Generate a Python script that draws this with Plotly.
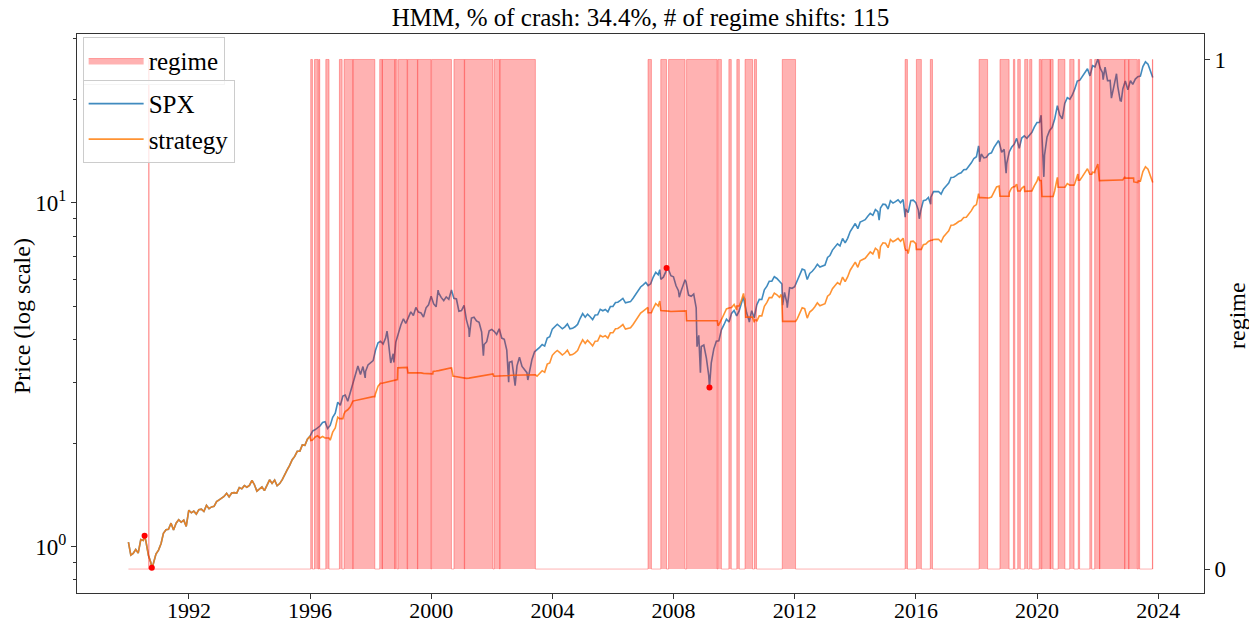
import pandas as pd
import plotly.graph_objects as go

title_text = "HMM, % of crash: 34.4%, # of regime shifts: 115"
tick_years = [1992, 1996, 2000, 2004, 2008, 2012, 2016, 2020, 2024]

first_date = "1990-01-02"
last_date = "2023-10-27"

# month-end values, Jan 1990 .. Sep 2023 (one row per year)
spx_monthly = [
    0.944, 0.955, 0.981, 0.957, 1.048, 1.042, 1.039, 0.944, 0.898, 0.895, 0.951, 0.977,
    1.021, 1.093, 1.120, 1.123, 1.170, 1.117, 1.170, 1.197, 1.177, 1.194, 1.145, 1.276,
    1.254, 1.268, 1.243, 1.281, 1.285, 1.265, 1.318, 1.289, 1.304, 1.309, 1.352, 1.368,
    1.381, 1.399, 1.429, 1.395, 1.431, 1.435, 1.431, 1.484, 1.472, 1.504, 1.488, 1.507,
    1.559, 1.516, 1.450, 1.470, 1.492, 1.455, 1.505, 1.564, 1.526, 1.561, 1.503, 1.525,
    1.565, 1.625, 1.672, 1.723, 1.789, 1.830, 1.893, 1.895, 1.975, 1.970, 2.054, 2.094,
    2.167, 2.186, 2.208, 2.242, 2.297, 2.307, 2.206, 2.251, 2.378, 2.445, 2.629, 2.578,
    2.740, 2.760, 2.646, 2.805, 2.973, 3.107, 3.354, 3.166, 3.339, 3.229, 3.377, 3.435,
    3.474, 3.723, 3.914, 3.955, 3.884, 4.042, 4.000, 3.420, 3.639, 3.935, 4.173, 4.413,
    4.599, 4.456, 4.635, 4.816, 4.701, 4.962, 4.809, 4.784, 4.653, 4.950, 5.050, 5.348,
    5.080, 4.983, 5.470, 5.306, 5.195, 5.324, 5.241, 5.565, 5.272, 5.250, 4.836, 4.859,
    5.033, 4.573, 4.285, 4.619, 4.648, 4.536, 4.492, 4.209, 3.870, 3.945, 4.246, 4.282,
    4.222, 4.141, 4.300, 4.042, 4.011, 3.727, 3.438, 3.460, 3.083, 3.355, 3.552, 3.343,
    3.256, 3.205, 3.236, 3.503, 3.686, 3.732, 3.798, 3.871, 3.830, 4.045, 4.079, 4.292,
    4.373, 4.433, 4.367, 4.300, 4.358, 4.443, 4.298, 4.314, 4.360, 4.428, 4.606, 4.763,
    4.650, 4.745, 4.661, 4.573, 4.717, 4.724, 4.901, 4.853, 4.893, 4.814, 4.991, 4.993,
    5.128, 5.138, 5.203, 5.273, 5.117, 5.125, 5.159, 5.276, 5.413, 5.592, 5.692, 5.772,
    5.863, 5.744, 5.811, 6.073, 6.280, 6.179, 5.991, 6.077, 6.306, 6.410, 6.136, 6.094,
    5.735, 5.549, 5.529, 5.806, 5.882, 5.389, 5.348, 5.426, 4.945, 4.117, 3.818, 3.857,
    3.533, 3.150, 3.425, 3.753, 3.959, 3.967, 4.269, 4.419, 4.586, 4.502, 4.769, 4.862,
    4.690, 4.830, 5.122, 5.206, 4.786, 4.535, 4.855, 4.631, 5.044, 5.238, 5.234, 5.584,
    5.720, 5.913, 5.917, 6.095, 6.024, 5.923, 5.806, 5.485, 5.100, 5.659, 5.640, 5.697,
    5.955, 6.207, 6.413, 6.374, 5.985, 6.232, 6.321, 6.456, 6.624, 6.503, 6.533, 6.589,
    6.933, 7.021, 7.285, 7.429, 7.595, 7.493, 7.877, 7.642, 7.883, 8.247, 8.492, 8.706,
    8.410, 8.786, 8.861, 8.930, 9.133, 9.321, 9.196, 9.556, 9.424, 9.657, 9.910, 9.883,
    9.592, 10.137, 9.978, 10.079, 10.204, 10.006, 10.220, 9.599, 9.360, 10.154, 10.177, 10.015,
    9.523, 9.501, 10.144, 10.188, 10.363, 10.390, 10.777, 10.783, 10.787, 10.595, 10.976, 11.194,
    11.412, 11.853, 11.868, 11.993, 12.151, 12.226, 12.482, 12.507, 12.768, 13.070, 13.458, 13.609,
    14.396, 13.859, 13.508, 13.566, 13.884, 13.972, 14.498, 14.963, 15.051, 14.028, 14.303, 13.011,
    14.059, 14.502, 14.790, 15.398, 14.410, 15.430, 15.659, 15.402, 15.696, 16.044, 16.619, 17.123,
    17.118, 15.696, 13.750, 15.514, 16.235, 16.556, 17.490, 18.737, 18.026, 17.550, 19.459, 20.208,
    20.005, 20.550, 21.446, 22.591, 22.740, 23.271, 23.827, 24.545, 23.398, 25.044, 24.863, 25.976,
    24.646, 23.912, 24.804, 22.655, 22.694, 20.820, 22.750, 21.820, 19.811, 21.424, 22.612, 21.309,
    22.658, 22.094, 22.901, 23.266, 23.357, 24.900, 25.712, 25.288, 24.090,
]

spx_extra_dates = [
    "1990-01-02", "1990-07-16", "1990-10-11", "1997-10-27", "1998-07-17", "1998-10-08",
    "2000-03-24", "2000-09-01", "2001-04-04", "2001-09-21", "2002-07-23", "2002-10-09",
    "2003-03-11", "2007-07-19", "2007-10-09", "2008-03-10", "2008-05-19", "2008-10-10",
    "2008-11-20", "2009-03-09", "2010-04-23", "2010-07-02", "2011-08-08", "2011-10-03",
    "2014-10-15", "2015-08-25", "2016-02-11", "2016-06-27", "2018-01-26", "2018-02-08",
    "2018-09-20", "2018-12-24", "2020-02-19", "2020-03-23", "2020-09-02", "2022-01-03",
    "2022-03-08", "2022-06-16", "2022-08-16", "2022-10-12", "2023-10-27",
]
spx_extra_values = [
    1.030, 1.075, 0.868, 3.096, 4.233, 3.435,
    5.574, 5.577, 4.07, 3.589, 3.006, 2.940,
    3.052, 6.39, 6.467, 5.314, 5.975, 3.815,
    3.203, 2.900, 5.339, 4.50, 5.04, 4.956,
    8.905, 9.084, 8.985, 9.899, 14.643, 13.163,
    15.13, 12.198, 17.984, 11.899, 19.17, 26.142,
    22.810, 20.153, 23.730, 19.774, 23.15,
]

strategy_monthly = [
    0.944, 0.955, 0.981, 0.957, 1.048, 1.042, 1.039, 0.944, 0.898, 0.895, 0.951, 0.977,
    1.021, 1.093, 1.120, 1.123, 1.170, 1.117, 1.170, 1.197, 1.177, 1.194, 1.145, 1.276,
    1.254, 1.268, 1.243, 1.281, 1.285, 1.265, 1.318, 1.289, 1.304, 1.309, 1.352, 1.368,
    1.381, 1.399, 1.429, 1.395, 1.431, 1.435, 1.431, 1.484, 1.472, 1.504, 1.488, 1.507,
    1.559, 1.516, 1.450, 1.470, 1.492, 1.455, 1.505, 1.564, 1.526, 1.561, 1.503, 1.525,
    1.565, 1.625, 1.672, 1.723, 1.789, 1.830, 1.893, 1.895, 1.975, 1.970, 2.054, 2.094,
    2.04, 2.08, 2.10, 2.07, 2.09, 2.07, 2.07, 2.04, 2.152, 2.213, 2.379, 2.356,
    2.356, 2.47, 2.50, 2.55, 2.65, 2.66, 2.68, 2.69, 2.70, 2.71, 2.72, 2.72,
    2.73, 2.785, 2.928, 2.985, 2.99, 3.00, 3.01, 3.02, 3.03, 3.05, 3.31, 3.31,
    3.31, 3.31, 3.20, 3.20, 3.21, 3.21, 3.21, 3.20, 3.19, 3.19, 3.18, 3.18,
    3.23, 3.24, 3.25, 3.26, 3.27, 3.28, 3.29, 3.31, 3.13, 3.12, 3.11, 3.10,
    3.09, 3.085, 3.09, 3.10, 3.11, 3.12, 3.13, 3.14, 3.15, 3.16, 3.17, 3.175,
    3.13, 3.13, 3.135, 3.14, 3.14, 3.14, 3.145, 3.15, 3.15, 3.15, 3.155, 3.155,
    3.16, 3.16, 3.16, 3.16, 3.16, 3.131, 3.187, 3.248, 3.213, 3.394, 3.422, 3.601,
    3.669, 3.719, 3.664, 3.608, 3.656, 3.728, 3.606, 3.619, 3.658, 3.715, 3.864, 3.996,
    3.901, 3.981, 3.911, 3.837, 3.958, 3.963, 4.112, 4.072, 4.105, 4.039, 4.187, 4.189,
    4.302, 4.311, 4.365, 4.424, 4.293, 4.300, 4.328, 4.427, 4.542, 4.692, 4.776, 4.843,
    4.919, 4.79, 4.79, 4.925, 5.093, 5.011, 4.859, 4.86, 4.86, 4.84, 4.83, 4.83,
    4.83, 4.83, 4.83, 4.84, 4.85, 4.54, 4.54, 4.54, 4.54, 4.54, 4.54, 4.54,
    4.54, 4.54, 4.54, 4.54, 4.54, 4.42, 4.57, 4.73, 4.91, 4.94, 4.96, 5.06,
    4.88, 5.01, 5.22, 5.31, 4.65, 4.65, 4.65, 4.49, 4.52, 4.69, 4.69, 5.00,
    5.13, 5.30, 5.30, 5.46, 5.40, 5.31, 5.20, 4.52, 4.52, 4.52, 4.52, 4.52,
    4.597, 4.792, 4.951, 4.921, 4.620, 4.811, 4.880, 4.984, 5.114, 5.020, 5.043, 5.087,
    5.352, 5.420, 5.624, 5.735, 5.863, 5.785, 6.081, 5.900, 6.086, 6.367, 6.556, 6.721,
    6.493, 6.783, 6.841, 6.894, 7.051, 7.196, 7.099, 7.377, 7.275, 7.455, 7.651, 7.630,
    7.405, 7.826, 7.703, 7.781, 7.877, 7.725, 7.890, 7.28, 7.114, 7.717, 7.735, 7.611,
    7.32, 7.32, 7.557, 7.590, 7.720, 7.785, 7.824, 7.828, 7.831, 7.692, 7.969, 8.127,
    8.285, 8.605, 8.616, 8.707, 8.822, 8.876, 9.062, 9.080, 9.270, 9.489, 9.771, 9.880,
    10.451, 10.35, 10.35, 10.35, 10.323, 10.388, 10.779, 11.125, 11.190, 10.45, 10.45, 10.45,
    10.709, 11.046, 11.13, 11.333, 10.82, 11.02, 11.18, 10.80, 10.85, 10.83, 11.218, 11.558,
    11.61, 10.43, 10.43, 10.43, 10.43, 10.43, 10.82, 11.59, 11.10, 11.10, 11.10, 11.377,
    11.26, 11.26, 11.358, 11.964, 11.64, 11.915, 12.199, 12.567, 12.11, 12.272, 12.40, 12.88,
    11.60, 11.60, 11.61, 11.61, 11.62, 11.62, 11.63, 11.64, 11.65, 11.66, 11.80, 11.80,
    11.80, 11.80, 11.48, 11.45, 11.56, 12.33, 12.73, 12.52, 11.92,
]

strategy_extra_dates = [
    "1990-01-02", "1990-07-16", "1990-10-11", "1996-01-10", "1996-08-16", "1996-12-20",
    "1997-02-13", "1998-02-20", "1998-04-20", "1998-11-20", "1998-11-24", "1999-03-17",
    "1999-03-27", "2000-01-20", "2000-01-24", "2000-09-01", "2000-09-20", "2002-01-15",
    "2002-01-25", "2003-06-10", "2007-02-26", "2007-02-27", "2007-04-09", "2007-07-19",
    "2007-10-09", "2008-05-19", "2008-06-06", "2009-06-12", "2009-06-19", "2009-10-29",
    "2009-11-27", "2010-02-02", "2010-03-04", "2010-04-23", "2010-05-12", "2010-05-20",
    "2010-08-11", "2010-09-02", "2010-09-27", "2011-07-21", "2011-08-04", "2011-08-08",
    "2012-01-11", "2014-10-15", "2015-08-21", "2015-08-24", "2015-09-21", "2016-01-04",
    "2016-01-07", "2016-03-07", "2016-06-23", "2016-07-19", "2018-01-26", "2018-02-01",
    "2018-05-15", "2018-10-10", "2018-10-11", "2019-01-29", "2019-03-22", "2019-04-08",
    "2019-05-13", "2019-06-13", "2019-08-05", "2019-09-13", "2019-10-04", "2019-10-30",
    "2020-01-17", "2020-01-27", "2020-02-20", "2020-02-25", "2020-02-27", "2020-07-13",
    "2020-09-02", "2020-09-11", "2020-12-02", "2021-03-22", "2021-05-07", "2021-05-12",
    "2021-05-28", "2021-09-28", "2021-10-22", "2021-11-26", "2022-01-03", "2022-01-21",
    "2022-11-23", "2023-03-10", "2023-03-13", "2023-04-24", "2023-05-05", "2023-05-22",
    "2023-10-27",
]
strategy_extra_values = [
    1.030, 1.075, 0.868, 2.035, 2.07, 2.356,
    2.43, 2.73, 2.985, 3.06, 3.31, 3.32,
    3.20, 3.18, 3.23, 3.32, 3.13, 3.18,
    3.13, 3.16, 4.963, 4.792, 4.79, 5.18,
    4.86, 4.85, 4.54, 4.54, 4.39, 4.94,
    4.94, 5.01, 5.01, 5.45, 5.24, 4.65,
    4.65, 4.56, 4.56, 5.41, 4.84, 4.52,
    4.52, 6.875, 7.40, 7.28, 7.28, 7.50,
    7.32, 7.32, 7.785, 7.785, 10.631, 10.35,
    10.35, 10.706, 10.45, 10.45, 11.13, 11.13,
    10.82, 10.82, 10.80, 10.80, 10.85, 10.85,
    11.92, 11.61, 11.61, 10.80, 10.43, 10.43,
    11.86, 11.10, 11.10, 11.26, 12.12, 11.64,
    11.64, 12.11, 12.11, 12.25, 12.96, 11.60,
    11.90, 11.80, 11.50, 11.45, 11.58, 11.58,
    11.46,
]

crash_dates = ["1990-07-16", "1990-10-11", "2007-10-09", "2009-03-09"]
crash_values = [1.075, 0.868, 6.467, 2.900]

regime_starts = [
    "1990-09-05", "1996-01-09", "1996-02-24", "1996-04-16", "1996-07-09", "1996-12-20",
    "1997-02-14", "1997-06-03", "1998-04-20", "1998-05-22", "1998-10-21", "1998-12-01",
    "1999-03-22", "1999-07-23", "2000-01-05", "2000-10-01", "2001-02-07", "2002-01-30",
    "2002-04-09", "2007-02-27", "2007-07-31", "2007-11-02", "2008-06-06", "2009-06-18",
    "2009-10-29", "2010-02-02", "2010-05-12", "2010-09-02", "2011-08-04", "2015-08-24",
    "2016-01-07", "2016-06-23", "2018-02-01", "2018-10-11", "2019-03-22", "2019-05-13",
    "2019-08-05", "2019-10-04", "2020-01-27", "2020-02-27", "2020-06-10", "2020-09-11",
    "2021-01-29", "2021-05-12", "2021-09-28", "2021-11-26", "2022-01-26", "2022-11-25",
    "2023-01-12", "2023-05-05", "2023-10-23",
]
regime_ends = [
    "1990-09-06", "1996-01-30", "1996-04-08", "1996-04-27", "1996-08-17", "1997-01-22",
    "1997-05-30", "1998-02-20", "1998-05-20", "1998-10-19", "1998-11-17", "1999-03-17",
    "1999-07-19", "1999-12-28", "2000-09-01", "2001-02-03", "2002-01-15", "2002-04-05",
    "2003-06-10", "2007-04-09", "2007-10-09", "2008-05-19", "2009-06-10", "2009-07-31",
    "2009-11-27", "2010-03-04", "2010-08-11", "2010-09-27", "2012-01-11", "2015-09-21",
    "2016-03-07", "2016-07-19", "2018-05-15", "2019-01-29", "2019-04-08", "2019-06-13",
    "2019-09-13", "2019-10-30", "2020-02-20", "2020-06-08", "2020-07-13", "2020-12-02",
    "2021-03-22", "2021-05-28", "2021-10-22", "2022-01-24", "2022-11-21", "2023-01-10",
    "2023-04-24", "2023-05-22", "2023-10-27",
]


def build_series(monthly, extra_dates, extra_values):
    m = pd.Series(monthly, index=pd.date_range("1990-01-31", periods=len(monthly), freq="ME"))
    e = pd.Series(extra_values, index=pd.to_datetime(extra_dates))
    return pd.concat([m, e]).sort_index()


spx = build_series(spx_monthly, spx_extra_dates, spx_extra_values)
strategy = build_series(strategy_monthly, strategy_extra_dates, strategy_extra_values)

reg_x = [first_date]
reg_y = [0]
for s, e in zip(regime_starts, regime_ends):
    reg_x += [s, e]
    reg_y += [1, 0]
reg_x.append(last_date)
reg_y.append(0)

FONT = "Liberation Serif, DejaVu Serif, serif"
AX = "#333333"

fig = go.Figure()
fig.add_trace(go.Scatter(
    x=spx.index, y=spx.values, mode="lines", name="SPX",
    line=dict(color="rgba(31,119,180,0.85)", width=1.6), legend="legend2",
))
fig.add_trace(go.Scatter(
    x=strategy.index, y=strategy.values, mode="lines", name="strategy",
    line=dict(color="rgba(255,127,14,0.85)", width=1.6), legend="legend2",
))
fig.add_trace(go.Scatter(
    x=crash_dates, y=crash_values, mode="markers", showlegend=False,
    marker=dict(color="red", size=6),
))
fig.add_trace(go.Scatter(
    x=reg_x, y=reg_y, yaxis="y2", mode="lines", name="regime",
    line=dict(shape="hv", color="rgba(255,0,0,0.3)", width=1),
    fill="tozeroy", fillcolor="rgba(255,0,0,0.3)", legend="legend",
))

legend_common = dict(
    xanchor="left", yanchor="top", bgcolor="rgba(255,255,255,0.8)",
    bordercolor="#cccccc", borderwidth=1, font=dict(family=FONT, size=25, color="black"),
    itemwidth=55, tracegroupgap=0,
)

fig.update_layout(
    width=1249, height=622, autosize=False,
    margin=dict(l=77, r=45, t=34, b=29),
    paper_bgcolor="white", plot_bgcolor="white",
    font=dict(family=FONT, size=23, color="black"),
    title=dict(text=title_text, x=0.5, xref="paper", xanchor="center",
               y=1 - 17 / 622, yref="container", yanchor="middle",
               font=dict(family=FONT, size=25, color="black")),
    xaxis=dict(
        type="date", range=["1988-04-22", "2025-07-06"],
        tickvals=[f"{y}-01-01" for y in tick_years], ticktext=[str(y) for y in tick_years],
        ticks="outside", ticklen=5, tickcolor=AX, showline=True, linecolor=AX, linewidth=1,
        mirror=True, showgrid=False, zeroline=False, tickfont=dict(size=22),
        ticklabelstandoff=-7, automargin=False,
    ),
    yaxis=dict(
        type="log", range=[-0.135, 1.491],
        tickvals=[1, 10], ticktext=["10<sup>0</sup>", "10<sup>1</sup>"],
        ticks="outside", ticklen=5, tickcolor=AX, showline=True, linecolor=AX, linewidth=1,
        mirror=True, showgrid=False, zeroline=False, tickfont=dict(size=23),
        minor=dict(ticks="outside", ticklen=3, tickcolor=AX,
                   tickvals=[0.8, 0.9, 2, 3, 4, 5, 6, 7, 8, 9, 20, 30]),
        automargin=False,
    ),
    yaxis2=dict(
        overlaying="y", side="right", range=[-0.047, 1.050],
        tickvals=[0, 1], ticktext=["0", "1"],
        ticks="outside", ticklen=5, tickcolor=AX, showline=True, linecolor=AX, linewidth=1,
        showgrid=False, zeroline=False, tickfont=dict(size=23),
        automargin=False,
    ),
    legend=dict(x=0.005, y=0.995, **legend_common),
    legend2=dict(x=0.005, y=0.918, **legend_common),
    annotations=[
        dict(text="Price (log scale)", xref="paper", yref="paper",
             x=(22 - 77) / 1127, y=(593 - 316) / 559, textangle=-90,
             showarrow=False, xanchor="center", yanchor="middle",
             font=dict(family=FONT, size=24, color="black")),
        dict(text="regime", xref="paper", yref="paper",
             x=(1237 - 77) / 1127, y=(593 - 316) / 559, textangle=-90,
             showarrow=False, xanchor="center", yanchor="middle",
             font=dict(family=FONT, size=24, color="black")),
    ],
)

fig.write_html(
    "out.html",
    config={"displayModeBar": False},
    post_script="document.body.style.margin='0';document.body.style.overflow='hidden';",
)
